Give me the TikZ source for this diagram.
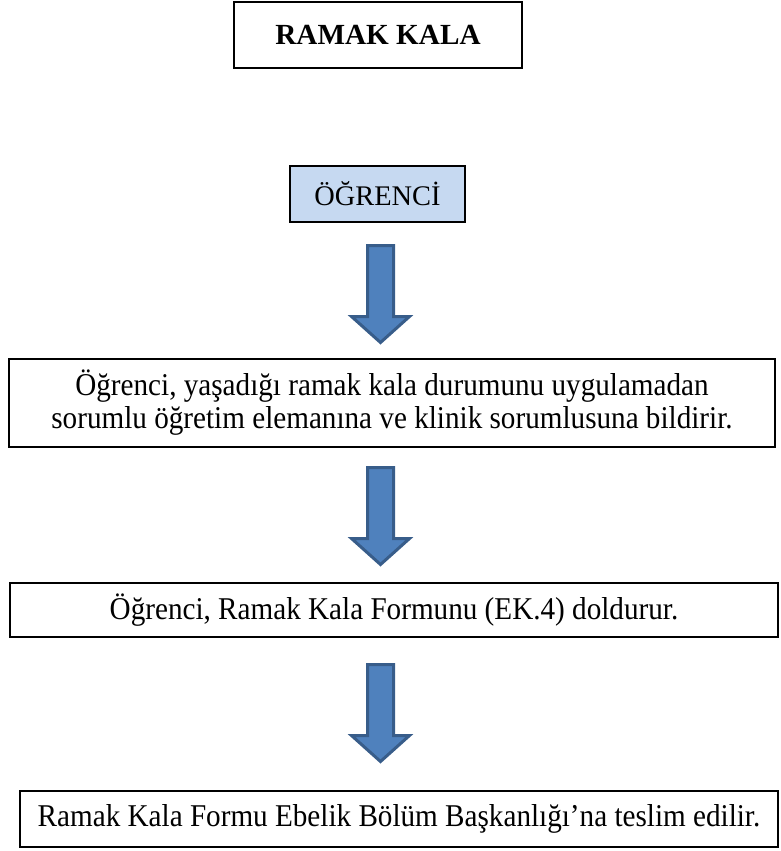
\documentclass[tikz,border=0pt]{standalone}
\usepackage{fontspec}
\setmainfont{Liberation Serif}
\newfontfamily\bodyfont{Liberation Serif}[FakeStretch=0.92]
\definecolor{ogrblue}{HTML}{C6D9F1}
\definecolor{arrowfill}{HTML}{4F81BD}
\definecolor{arrowline}{HTML}{385D8A}
\tikzset{
  box/.style={draw=black, line width=1.4pt, inner sep=0pt, align=center},
  bodytext/.style={font=\bodyfont\fontsize{31.7}{33}\selectfont},
  blockarrow/.pic={
    \draw[fill=arrowfill, draw=arrowline, line width=3pt, line join=miter]
      (-13,0) -- (13,0) -- (13,71) -- (29,71) -- (0,97) -- (-29,71) -- (-13,71) -- cycle;
  }
}
\begin{document}
\begin{tikzpicture}[x=1pt,y=-1pt]
\useasboundingbox (0,0) rectangle (781,851);
\node[box, minimum width=288pt, minimum height=66pt,
      font=\bfseries\fontsize{29.2}{32}\selectfont] (title) at (378,35) {RAMAK KALA};
\node[box, fill=ogrblue, minimum width=175pt, minimum height=56pt,
      font=\fontsize{28.4}{31}\selectfont] (ogr) at (377.5,194) {ÖĞRENCİ};
\node[box, bodytext, minimum width=766pt, minimum height=88pt] (bildir) at (392,403)
  {Öğrenci, yaşadığı ramak kala durumunu uygulamadan\\sorumlu öğretim elemanına ve klinik sorumlusuna bildirir.};
\node[box, bodytext, minimum width=768pt, minimum height=54pt] (form) at (394,610)
  {Öğrenci, Ramak Kala Formunu (EK.4) doldurur.};
\node[box, bodytext, minimum width=758pt, minimum height=56pt] (teslim) at (399,819)
  {Ramak Kala Formu Ebelik Bölüm Başkanlığı’na teslim edilir.};
\coordinate (a1) at (380.5,245.5);
\coordinate (a2) at (380.5,467.5);
\coordinate (a3) at (380.5,664.5);
\pic at (a1) {blockarrow};
\pic at (a2) {blockarrow};
\pic at (a3) {blockarrow};
\end{tikzpicture}
\end{document}
